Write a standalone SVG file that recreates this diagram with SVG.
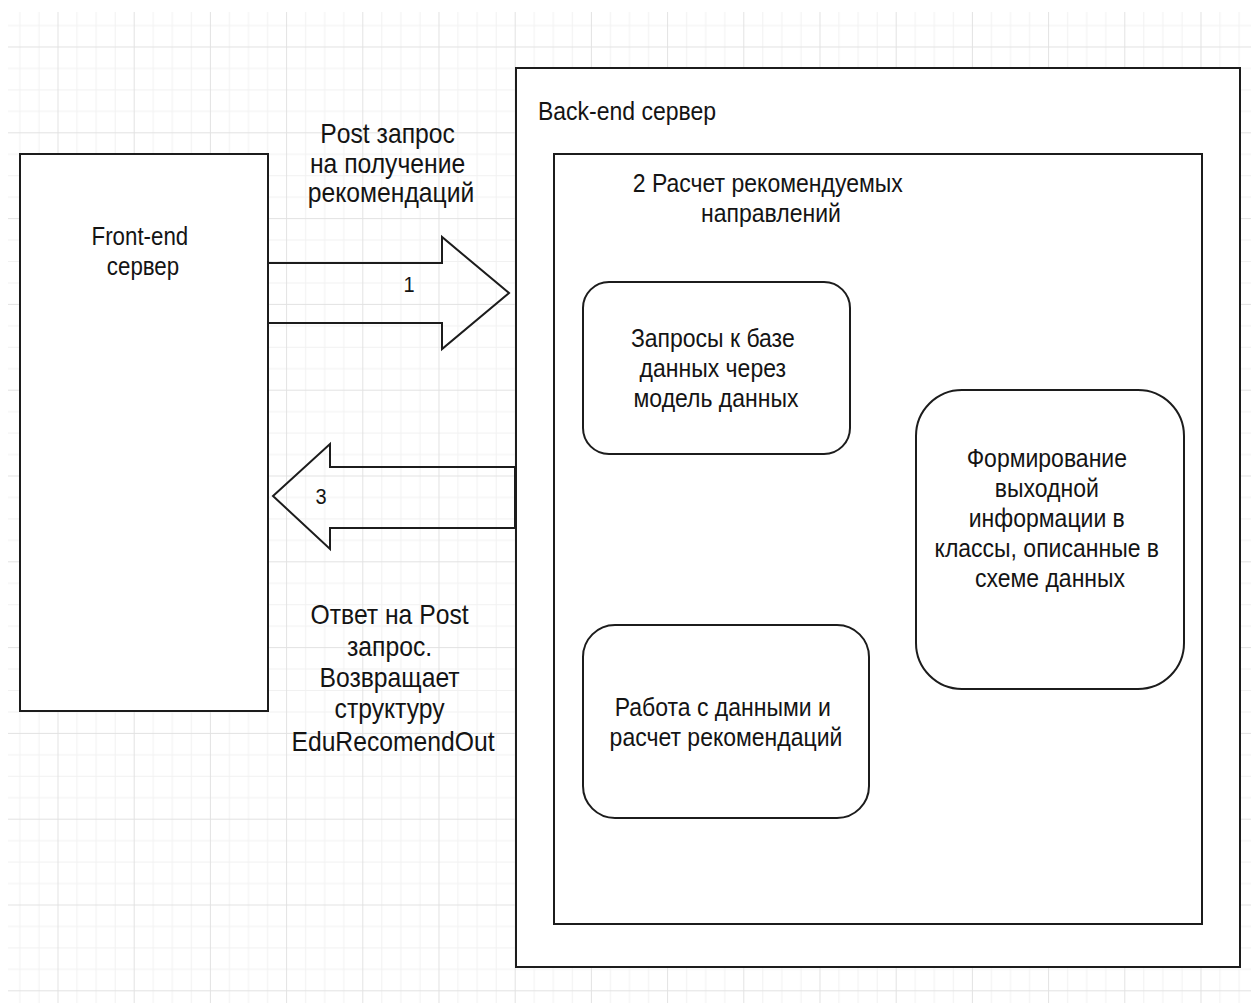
<svg xmlns="http://www.w3.org/2000/svg" width="1251" height="1003" viewBox="0 0 1251 1003">
  <defs>
    <!-- drafting grid: minor cells 19.05 x 21.45, major every 4 cells -->
    <pattern id="grid" patternUnits="userSpaceOnUse" x="57.5" y="46.5" width="76.2" height="85.8">
      <g fill="#f1f1f1">
        <rect x="19.05" y="0" width="1" height="85.8"/>
        <rect x="38.1" y="0" width="1" height="85.8"/>
        <rect x="57.15" y="0" width="1" height="85.8"/>
        <rect x="0" y="21.45" width="76.2" height="1"/>
        <rect x="0" y="42.9" width="76.2" height="1"/>
        <rect x="0" y="64.35" width="76.2" height="1"/>
      </g>
      <g fill="#e2e2e2">
        <rect x="0" y="0" width="1" height="85.8"/>
        <rect x="0" y="0" width="76.2" height="1"/>
      </g>
    </pattern>
    <style>
      .box { fill: #ffffff; stroke: #1c1c1c; stroke-width: 2; }
      .arrow { fill: none; stroke: #1c1c1c; stroke-width: 2; stroke-linejoin: miter; }
      .lbl { font-family: "Liberation Sans", Arial, sans-serif; font-size: 23px; fill: #141414; }
      .edge-lbl { font-size: 24.7px; }
      .num { font-family: "Liberation Sans", Arial, sans-serif; font-size: 20px; fill: #141414; }
    </style>
  </defs>

  <rect width="1251" height="1003" fill="#ffffff"/>
  <rect x="8" y="12" width="1243" height="991" fill="url(#grid)"/>

  <!-- Back-end server container -->
  <g id="backend">
    <rect class="box" x="516" y="68" width="724" height="899"/>
    <text class="lbl" transform="translate(538,120) scale(1,1.13)" text-anchor="start">Back-end сервер</text>
  </g>

  <!-- Step 2: recommendation calculation -->
  <g id="calc">
    <rect class="box" x="554" y="154" width="648" height="770"/>
    <text class="lbl" transform="translate(771,192) scale(1,1.13)" text-anchor="middle">
      <tspan x="0" y="0">2 Расчет рекомендуемых</tspan>
      <tspan x="0" y="26.5">направлений</tspan>
    </text>
  </g>

  <g id="db-queries">
    <rect class="box" x="583" y="282" width="267" height="172" rx="26" ry="26"/>
    <text class="lbl" transform="translate(716,347) scale(1,1.13)" text-anchor="middle">
      <tspan x="0" y="0">Запросы к базе</tspan>
      <tspan x="0" y="26.5">данных через</tspan>
      <tspan x="0" y="53">модель данных</tspan>
    </text>
  </g>

  <g id="output-forming">
    <rect class="box" x="916" y="390" width="268" height="299" rx="46" ry="46"/>
    <text class="lbl" transform="translate(1050,467) scale(1,1.13)" text-anchor="middle">
      <tspan x="0" y="0">Формирование</tspan>
      <tspan x="0" y="26.5">выходной</tspan>
      <tspan x="0" y="53">информации в</tspan>
      <tspan x="0" y="79.5">классы, описанные в</tspan>
      <tspan x="0" y="106">схеме данных</tspan>
    </text>
  </g>

  <g id="data-processing">
    <rect class="box" x="583" y="625" width="286" height="193" rx="32" ry="32"/>
    <text class="lbl" transform="translate(726,716) scale(1,1.13)" text-anchor="middle">
      <tspan x="0" y="0">Работа с данными и</tspan>
      <tspan x="0" y="26.5">расчет рекомендаций</tspan>
    </text>
  </g>

  <!-- Front-end server -->
  <g id="frontend">
    <rect class="box" x="20" y="154" width="248" height="557"/>
    <text class="lbl" style="font-size:22.3px" transform="translate(143,245) scale(1,1.13)" text-anchor="middle">
      <tspan x="0" y="0">Front-end</tspan>
      <tspan x="0" y="26.5">сервер</tspan>
    </text>
  </g>

  <!-- Block arrows between the servers -->
  <g id="connectors">
    <g id="request">
      <polygon class="arrow" points="268,263 442,263 442,237 509,293 442,349 442,323 268,323"/>
      <text class="num" transform="translate(409,292) scale(1,1.13)" text-anchor="middle">1</text>
      <text class="lbl edge-lbl" transform="translate(391,143) scale(1,1.13)" text-anchor="middle">
        <tspan x="0" y="0">Post запрос</tspan>
        <tspan x="0" y="26.3">на получение</tspan>
        <tspan x="0" y="52.6">рекомендаций</tspan>
      </text>
    </g>
    <g id="response">
      <polygon class="arrow" points="515,467 330,467 330,444 273,496 330,549 330,528 515,528"/>
      <text class="num" transform="translate(321,504) scale(1,1.13)" text-anchor="middle">3</text>
      <text class="lbl edge-lbl" transform="translate(393,624) scale(1,1.13)" text-anchor="middle">
        <tspan x="0" y="0">Ответ на Post</tspan>
        <tspan x="0" y="28">запрос.</tspan>
        <tspan x="0" y="56.2">Возвращает</tspan>
        <tspan x="0" y="82.8">структуру</tspan>
        <tspan x="0" y="112">EduRecomendOut</tspan>
      </text>
    </g>
  </g>
</svg>
